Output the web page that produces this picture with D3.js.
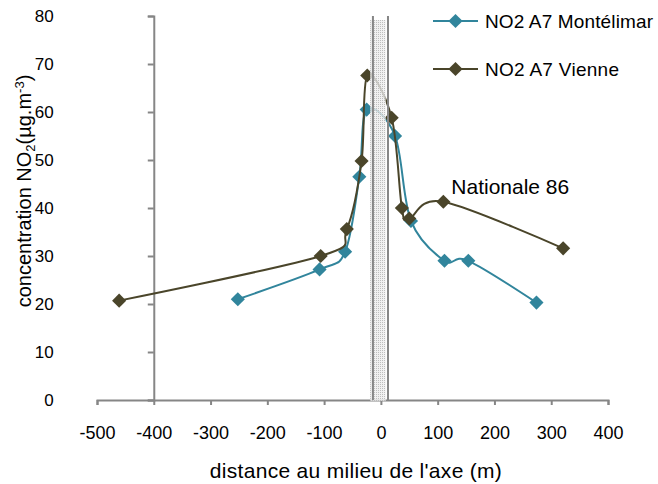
<!DOCTYPE html>
<html>
<head>
<meta charset="utf-8">
<title>NO2 distance</title>
<script src="https://d3js.org/d3.v7.min.js"></script>
<style>
  body { margin: 0; background: #fff; }
  text { font-family: "Liberation Sans", Arial, sans-serif; fill: #000; }
  .axis path, .axis line { stroke: #868686; stroke-width: 2px; }
  .axis text { font-size: 18px; }
  .yaxis text { font-size: 17px; }
</style>
</head>
<body>
<div id="chart"></div>
<script>
// data
var montelimarX = [-252, -108, -63, -38, -25, 25, 53, 112, 154, 274];
var montelimarY = [21.0, 27.2, 30.9, 46.5, 60.5, 55.0, 37.3, 29.0, 29.0, 20.3];
var vienneX = [-461, -106, -60, -34, -24, 19, 37, 50, 110, 321];
var vienneY = [20.7, 30.0, 35.6, 49.8, 67.6, 58.8, 40.0, 37.8, 41.3, 31.6];
var seriesNames = ["NO2 A7 Montélimar", "NO2 A7 Vienne"];
var xTicks = [-500, -400, -300, -200, -100, 0, 100, 200, 300, 400];
var yTicks = [0, 10, 20, 30, 40, 50, 60, 70, 80];
// road band (m) and its edge lines
var roadBand = [-19, 8.5];
var roadEdges = [-14, 12.5];
var annotation = {label: "Nationale 86", x: 124, y: 43};

var W = 658, H = 484;
var colors = ["#31859C", "#4A452A"];

var x = d3.scaleLinear().domain([-500, 400]).range([97, 608]);
var y = d3.scaleLinear().domain([0, 80]).range([400, 16]);

var svg = d3.select("#chart").append("svg")
  .attr("width", W).attr("height", H);

var defs = svg.append("defs");
var pat = defs.append("pattern")
  .attr("id", "hatch").attr("patternUnits", "userSpaceOnUse")
  .attr("width", 2).attr("height", 2);
pat.append("rect").attr("width", 2).attr("height", 2).attr("fill", "#eeeeee").attr("fill-opacity", 0.8);
pat.append("rect").attr("width", 1).attr("height", 1).attr("fill", "#b5b5b5").attr("fill-opacity", 0.85);

var plain = function(d) { return String(d); };

// axes
svg.append("g").attr("class", "axis")
  .attr("transform", "translate(0," + y(0) + ")")
  .call(d3.axisBottom(x).tickValues(xTicks).tickFormat(plain).tickSize(5).tickPadding(21).tickSizeOuter(5))
  .call(function(g) { g.selectAll("text").attr("dy", "0.71em"); });

svg.append("g").attr("class", "axis yaxis")
  .attr("transform", "translate(" + x(-400) + ",0)")
  .call(d3.axisLeft(y).tickValues(yTicks).tickFormat(plain).tickSize(6).tickSizeOuter(6).tickPadding(94));

// series
var series = [
  {name: seriesNames[0], xs: montelimarX, ys: montelimarY},
  {name: seriesNames[1], xs: vienneX, ys: vienneY}
];

var line = d3.line()
  .curve(d3.curveCardinal.tension(0))
  .x(function(d) { return x(d[0]); })
  .y(function(d) { return y(d[1]); });

var diamond = d3.symbol().type(d3.symbolSquare).size(100);

series.forEach(function(s, i) {
  var pts = s.xs.map(function(v, j) { return [v, s.ys[j]]; });
  var g = svg.append("g");
  g.append("path").attr("d", line(pts))
    .attr("fill", "none").attr("stroke", colors[i]).attr("stroke-width", 2);
  g.selectAll("path.pt").data(pts).enter().append("path")
    .attr("class", "pt")
    .attr("d", diamond)
    .attr("transform", function(d) { return "translate(" + x(d[0]) + "," + y(d[1]) + ") rotate(45)"; })
    .attr("fill", colors[i]);
});

// road band over the lines
svg.append("rect")
  .attr("x", x(roadBand[0])).attr("y", 20)
  .attr("width", x(roadBand[1]) - x(roadBand[0]))
  .attr("height", y(0) + 1 - 20)
  .attr("fill", "url(#hatch)");

svg.selectAll("line.edge").data(roadEdges).enter().append("line")
  .attr("class", "edge")
  .attr("x1", function(d) { return x(d); }).attr("x2", function(d) { return x(d); })
  .attr("y1", y(80)).attr("y2", y(0))
  .attr("stroke", "#868686").attr("stroke-width", 2);

// annotation
svg.append("text")
  .attr("x", x(annotation.x)).attr("y", y(annotation.y))
  .attr("font-size", 21)
  .text(annotation.label);

// legend
var legendWidths = [168, 134];
var leg = svg.append("g").attr("transform", "translate(433,21)");
seriesNames.forEach(function(n, i) {
  var r = leg.append("g").attr("transform", "translate(0," + (i * 48) + ")");
  r.append("line").attr("x1", 0).attr("x2", 45).attr("y1", 0).attr("y2", 0)
    .attr("stroke", colors[i]).attr("stroke-width", 2);
  r.append("path").attr("d", diamond)
    .attr("transform", "translate(22.5,0) rotate(45)")
    .attr("fill", colors[i]);
  r.append("text").attr("x", 52).attr("y", 7).attr("font-size", 19)
    .attr("textLength", legendWidths[i]).attr("lengthAdjust", "spacing").text(n);
});

// axis titles
svg.append("text")
  .attr("x", 356).attr("y", 478)
  .attr("text-anchor", "middle").attr("font-size", 21).attr("letter-spacing", 0.3)
  .text("distance au milieu de l'axe (m)");

var yt = svg.append("text")
  .attr("transform", "translate(31,191) rotate(-90)")
  .attr("text-anchor", "middle").attr("font-size", 20);
yt.append("tspan").text("concentration NO");
yt.append("tspan").attr("font-size", 13).attr("dy", 4).text("2");
yt.append("tspan").attr("dy", -4).text("(µg.m");
yt.append("tspan").attr("font-size", 13).attr("dy", -7).text("-3");
yt.append("tspan").attr("dy", 7).text(")");
</script>
</body>
</html>
